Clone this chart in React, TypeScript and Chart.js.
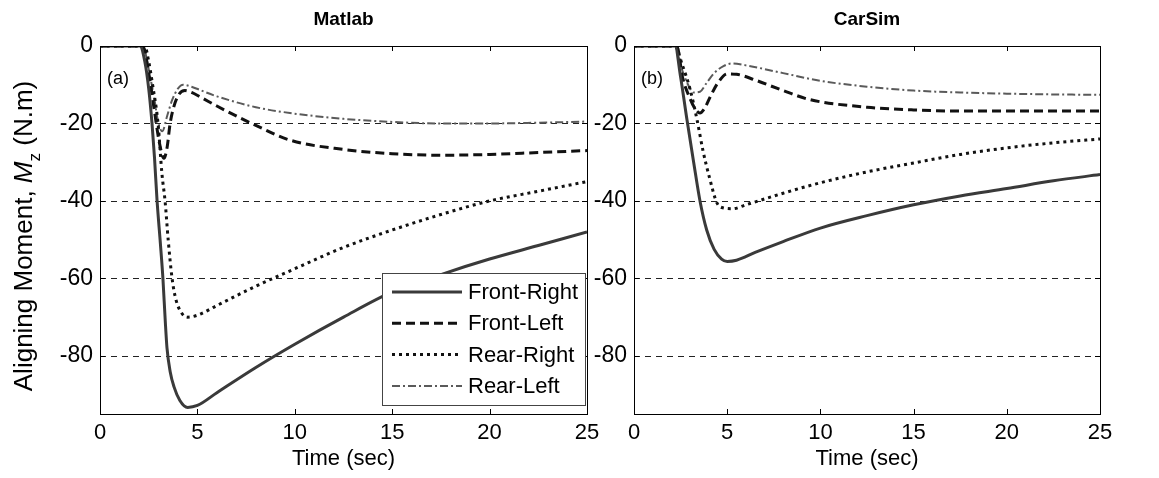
import React, { useEffect, useRef } from "react";
import { Chart, registerables } from "chart.js";
Chart.register(...registerables);

const FONT = '"Liberation Sans", Arial, Helvetica, sans-serif';

// ---------- Data ----------
const seriesNames = ["Front-Right", "Front-Left", "Rear-Right", "Rear-Left"];
const xTicks = [0, 5, 10, 15, 20, 25];
const yTicks = [0, -20, -40, -60, -80];
const panelTitles = ["Matlab", "CarSim"];
const panelTags = ["(a)", "(b)"];

// Matlab panel
const matlabFrontRightT = [0, 2.05, 2.3, 2.5, 2.67, 2.8, 2.93, 3.1, 3.23, 3.35, 3.44, 3.6, 3.8, 4.1, 4.5, 5.0, 6, 8, 10, 12.5, 15, 17.5, 20, 22.5, 25];
const matlabFrontRightY = [0, 0, -4, -11, -20, -29, -40, -51, -60, -71, -78, -84, -88, -91.5, -93.3, -92.8, -89.5, -83, -77, -70, -63.5, -59, -55, -51.5, -48];
const matlabFrontLeftT = [0, 2.2, 2.5, 2.8, 3.05, 3.28, 3.45, 3.6, 3.8, 4.05, 4.36, 4.7, 5.2, 6, 8, 9.75, 12.5, 15, 17.5, 20, 22.5, 25];
const matlabFrontLeftY = [0, 0, -7, -17, -25, -29, -26, -20, -15.5, -12.5, -11.5, -12, -13.3, -15.5, -20.5, -24.3, -26.7, -27.8, -28.2, -28, -27.5, -27];
const matlabRearRightT = [0, 2.3, 2.5, 2.7, 2.98, 3.18, 3.34, 3.5, 3.7, 3.9, 4.2, 4.5, 5.0, 6, 8, 10, 12.5, 15, 17.5, 20, 22.5, 25];
const matlabRearRightY = [0, 0, -4, -10, -20, -33, -40, -50, -60, -65.5, -69, -70, -69.5, -67, -62, -57.5, -52, -47.5, -43.5, -40, -37.5, -35];
const matlabRearLeftT = [0, 2.2, 2.5, 2.8, 3.0, 3.2, 3.45, 3.7, 4.0, 4.27, 4.7, 5.2, 6, 8, 9.75, 12.5, 15, 17.5, 20, 22.5, 25];
const matlabRearLeftY = [0, 0, -6, -14, -20, -22, -18, -14, -11, -10, -10.5, -11.5, -13, -15.8, -17.3, -18.8, -19.6, -20, -20, -19.8, -19.5];

// CarSim panel
const carsimFrontRightT = [0, 2.2, 2.5, 2.84, 3.2, 3.54, 3.9, 4.3, 4.7, 5.0, 5.5, 6.5, 8, 10, 12.5, 15, 17.5, 20, 22.5, 25];
const carsimFrontRightY = [0, 0, -8, -19, -30, -40, -47.5, -52.5, -55, -55.6, -55.3, -53.3, -50.5, -47, -43.8, -41, -38.7, -36.8, -34.8, -33.2];
const carsimFrontLeftT = [0, 2.3, 2.6, 3.0, 3.25, 3.54, 3.8, 4.1, 4.5, 5.0, 5.5, 6.5, 8, 9.4, 12.5, 15, 17.5, 20, 22.5, 25];
const carsimFrontLeftY = [0, 0, -8, -13.5, -16, -17.3, -16, -13, -9.5, -7.2, -7.3, -8.8, -11.5, -13.8, -15.8, -16.5, -16.8, -16.8, -16.8, -16.8];
const carsimRearRightT = [0, 2.2, 2.6, 3.0, 3.38, 3.7, 4.05, 4.45, 4.8, 5.3, 6, 8, 10, 12.5, 15, 17.5, 20, 22.5, 25];
const carsimRearRightY = [0, 0, -5, -11, -19, -27, -34, -40.5, -41.8, -42, -41, -38, -35.3, -32.5, -30.2, -28, -26.3, -25, -24];
const carsimRearLeftT = [0, 2.2, 2.5, 2.9, 3.2, 3.54, 3.9, 4.3, 4.8, 5.26, 6, 8, 10, 12.5, 15, 17.5, 20, 22.5, 25];
const carsimRearLeftY = [0, 0, -5, -10, -12, -11.8, -9.5, -7, -5.2, -4.5, -5, -7, -9, -10.5, -11.5, -12, -12.3, -12.5, -12.6];

// ---------- Styles ----------
const lineStyles = [
  { color: "#3a3a3a", width: 3, dash: [] as number[] },
  { color: "#111111", width: 3, dash: [9, 5] },
  { color: "#111111", width: 3, dash: [3, 4] },
  { color: "#5a5a5a", width: 2, dash: [8, 3, 2, 3] },
];

const pts = (t: number[], y: number[]) => t.map((x, i) => ({ x, y: y[i] }));

function makeDatasets(series: { x: number; y: number }[][]) {
  return series.map((data, i) => ({
    label: seriesNames[i],
    data,
    borderColor: lineStyles[i].color,
    borderWidth: lineStyles[i].width,
    borderDash: lineStyles[i].dash,
    pointRadius: 0,
    fill: false,
    cubicInterpolationMode: "monotone" as const,
  }));
}

function decorPlugin(panel: number) {
  return {
    id: "decor" + panel,
    beforeDatasetsDraw(chart: any) {
      const { ctx, chartArea } = chart;
      const ys = chart.scales.y;
      ctx.save();
      ctx.strokeStyle = "#222";
      ctx.lineWidth = 1;
      ctx.setLineDash([6, 5]);
      yTicks.forEach((v) => {
        if (v === 0) return;
        const py = Math.round(ys.getPixelForValue(v)) + 0.5;
        ctx.beginPath();
        ctx.moveTo(chartArea.left, py);
        ctx.lineTo(chartArea.right, py);
        ctx.stroke();
      });
      ctx.restore();
    },
    afterDatasetsDraw(chart: any) {
      const { ctx, chartArea } = chart;
      const xs = chart.scales.x;
      const ys = chart.scales.y;
      const L = chartArea.left, R = chartArea.right, T = chartArea.top, B = chartArea.bottom;
      ctx.save();
      // box
      ctx.strokeStyle = "#000";
      ctx.lineWidth = 1;
      ctx.setLineDash([]);
      ctx.strokeRect(Math.round(L) + 0.5, Math.round(T) + 0.5, Math.round(R - L), Math.round(B - T));
      // inside ticks
      ctx.beginPath();
      xTicks.forEach((v) => {
        const px = Math.round(xs.getPixelForValue(v)) + 0.5;
        ctx.moveTo(px, B); ctx.lineTo(px, B - 5);
        ctx.moveTo(px, T); ctx.lineTo(px, T + 5);
      });
      yTicks.forEach((v) => {
        const py = Math.round(ys.getPixelForValue(v)) + 0.5;
        ctx.moveTo(L, py); ctx.lineTo(L + 5, py);
        ctx.moveTo(R, py); ctx.lineTo(R - 5, py);
      });
      ctx.stroke();
      // panel tag
      ctx.fillStyle = "#000";
      ctx.font = `18px ${FONT}`;
      ctx.textAlign = "left";
      ctx.textBaseline = "middle";
      ctx.fillText(panelTags[panel], L + 7, T + 33);
      // title
      ctx.font = `bold 19px ${FONT}`;
      ctx.textAlign = "center";
      ctx.fillText(panelTitles[panel], (L + R) / 2, 20);

      if (panel === 0) {
        // legend
        const bx = R - 205, by = 273, bw = 203, bh = 132;
        ctx.fillStyle = "#fff";
        ctx.fillRect(bx, by, bw, bh);
        ctx.strokeStyle = "#444";
        ctx.lineWidth = 1;
        ctx.strokeRect(Math.round(bx) + 0.5, by + 0.5, bw, bh);
        chart.data.datasets.forEach((ds: any, i: number) => {
          const cy = by + 19 + i * 31.3;
          ctx.strokeStyle = ds.borderColor;
          ctx.lineWidth = ds.borderWidth;
          ctx.setLineDash(ds.borderDash);
          ctx.beginPath();
          ctx.moveTo(bx + 10, cy);
          ctx.lineTo(bx + 80, cy);
          ctx.stroke();
          ctx.setLineDash([]);
          ctx.fillStyle = "#000";
          ctx.font = `22px ${FONT}`;
          ctx.textAlign = "left";
          ctx.textBaseline = "middle";
          ctx.fillText(ds.label, bx + 86, cy + 1);
        });
        // y axis label with italic M and subscript z
        const p1 = "Aligning Moment, ";
        const p2 = "M";
        const p3 = "z";
        const p4 = " (N.m)";
        const f1 = `26px ${FONT}`;
        const f2 = `italic 26px ${FONT}`;
        const f3 = `17px ${FONT}`;
        ctx.font = f1; const w1 = ctx.measureText(p1).width; const w4 = ctx.measureText(p4).width;
        ctx.font = f2; const w2 = ctx.measureText(p2).width;
        ctx.font = f3; const w3 = ctx.measureText(p3).width;
        const total = w1 + w2 + w3 + w4;
        ctx.translate(32, 236);
        ctx.rotate(-Math.PI / 2);
        ctx.textAlign = "left";
        ctx.textBaseline = "alphabetic";
        ctx.fillStyle = "#000";
        let x = -total / 2;
        ctx.font = f1; ctx.fillText(p1, x, 0); x += w1;
        ctx.font = f2; ctx.fillText(p2, x, 0); x += w2;
        ctx.font = f3; ctx.fillText(p3, x, 8); x += w3;
        ctx.font = f1; ctx.fillText(p4, x, 0);
      }
      ctx.restore();
    },
  };
}

function makeConfig(panel: number, series: { x: number; y: number }[][], yWidth: number, rightPad: number): any {
  return {
    type: "line",
    data: { datasets: makeDatasets(series) },
    options: {
      animation: false,
      responsive: false,
      maintainAspectRatio: false,
      events: [],
      layout: { padding: { top: 46, right: rightPad, left: 0, bottom: 0 } },
      plugins: { legend: { display: false }, title: { display: false }, tooltip: { enabled: false } },
      scales: {
        x: {
          type: "linear",
          min: 0,
          max: 25,
          afterBuildTicks: (s: any) => { s.ticks = xTicks.map((v) => ({ value: v })); },
          ticks: { font: { family: FONT, size: 22 }, color: "#000", padding: 6, maxRotation: 0, autoSkip: false },
          grid: { display: false, drawTicks: false },
          border: { display: false },
          title: { display: true, text: "Time (sec)", color: "#000", font: { family: FONT, size: 22 }, padding: { top: 6, bottom: 6 } },
          afterFit: (s: any) => { s.height = 64; },
        },
        y: {
          type: "linear",
          min: -95,
          max: 0,
          afterBuildTicks: (s: any) => { s.ticks = yTicks.map((v) => ({ value: v })); },
          ticks: { font: { family: FONT, size: 23 }, color: "#000", padding: 7, autoSkip: false },
          grid: { display: false, drawTicks: false },
          border: { display: false },
          afterFit: (s: any) => { s.width = yWidth; },
        },
      },
    },
    plugins: [decorPlugin(panel)],
  };
}

export default function App() {
  const ref1 = useRef<HTMLCanvasElement>(null);
  const ref2 = useRef<HTMLCanvasElement>(null);
  useEffect(() => {
    const c1 = new Chart(ref1.current!, makeConfig(0, [
      pts(matlabFrontRightT, matlabFrontRightY),
      pts(matlabFrontLeftT, matlabFrontLeftY),
      pts(matlabRearRightT, matlabRearRightY),
      pts(matlabRearLeftT, matlabRearLeftY),
    ], 100, 23));
    const c2 = new Chart(ref2.current!, makeConfig(1, [
      pts(carsimFrontRightT, carsimFrontRightY),
      pts(carsimFrontLeftT, carsimFrontLeftY),
      pts(carsimRearRightT, carsimRearRightY),
      pts(carsimRearLeftT, carsimRearLeftY),
    ], 54, 59));
    return () => { c1.destroy(); c2.destroy(); };
  }, []);
  return (
    <div style={{ position: "absolute", left: 0, top: 0, width: 1159, height: 478, background: "#fff", overflow: "hidden" }}>
      <canvas ref={ref1} width={610} height={478} style={{ position: "absolute", left: 0, top: 0, width: 610, height: 478 }} />
      <canvas ref={ref2} width={579} height={478} style={{ position: "absolute", left: 580, top: 0, width: 579, height: 478 }} />
    </div>
  );
}
